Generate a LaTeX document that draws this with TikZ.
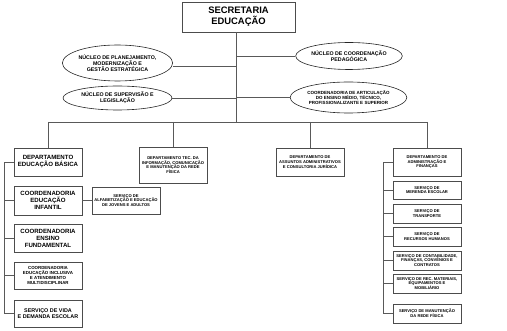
\documentclass[tikz,border=0pt]{standalone}
\usepackage{fontspec}
\setmainfont{Liberation Sans}
\usetikzlibrary{shapes.geometric}
\newcommand{\fs}[2]{\fontsize{#1}{#2}\selectfont\bfseries}
\tikzset{
  boxnode/.style={draw=black!70, line width=0.8pt, align=center, inner sep=0pt, fill=white},
  ellnode/.style={draw=black!85, line width=0.6pt, ellipse, align=center, inner sep=0pt},
  conn/.style={draw=black!65, line width=0.8pt},
}
\begin{document}
\begin{tikzpicture}[x=1pt,y=-1pt]
\useasboundingbox (0,0) rectangle (507,331);
% top
\node[boxnode, minimum width=113pt, minimum height=30pt, font=\fs{9.4}{10.8}] (top) at (238.5,17) {SECRETARIA\\EDUCAÇÃO};
% ellipses
\node[ellnode, minimum width=109pt, minimum height=36pt, font=\fs{5.3}{6.1}] (e1) at (117.5,63) {NÚCLEO DE PLANEJAMENTO,\\MODERNIZAÇÃO E\\GESTÃO ESTRATÉGICA};
\node[ellnode, minimum width=109pt, minimum height=24pt, font=\fs{5.3}{6.1}] (e2) at (117.5,98) {NÚCLEO DE SUPERVISÃO E\\LEGISLAÇÃO};
\node[ellnode, minimum width=98pt, minimum height=27pt, font=\fs{5.3}{6.1}] (e3) at (349,56) {NÚCLEO DE COORDENAÇÃO\\PEDAGÓGICA};
\node[ellnode, minimum width=99pt, minimum height=31pt, font=\fs{4.5}{5.3}] (e4) at (348.5,97.5) {COORDENADORIA DE ARTICULAÇÃO\\DO ENSINO MÉDIO, TÉCNICO,\\PROFISSIONALIZANTE E SUPERIOR};
% departments
\node[boxnode, minimum width=68pt, minimum height=28pt, font=\fs{6.1}{7}] (d1) at (48,162) {DEPARTAMENTO\\EDUCAÇÃO BÁSICA};
\node[boxnode, minimum width=68pt, minimum height=36pt, font=\fs{4.1}{4.8}] (d2) at (173,165) {DEPARTAMENTO TEC. DA\\INFORMAÇÃO, COMUNICAÇÃO\\E MANUTENÇÃO DA REDE\\FÍSICA};
\node[boxnode, minimum width=68pt, minimum height=28pt, font=\fs{4.1}{4.8}] (d3) at (310,162) {DEPARTAMENTO DE\\ASSUNTOS ADMINISTRATIVOS\\E CONSULTORIA JURÍDICA};
\node[boxnode, minimum width=68pt, minimum height=28pt, font=\fs{4.1}{4.8}] (d4) at (427,162) {DEPARTAMENTO DE\\ADMINISTRAÇÃO E\\FINANÇAS};
% left column
\node[boxnode, minimum width=68pt, minimum height=29pt, font=\fs{6.1}{7}] (c1) at (48,200.5) {COORDENADORIA\\EDUCAÇÃO\\INFANTIL};
\node[boxnode, minimum width=68pt, minimum height=27pt, font=\fs{4.1}{4.8}] (s1) at (126,200.5) {SERVIÇO DE\\ALFABETIZAÇÃO E EDUCAÇÃO\\DE JOVENS E ADULTOS};
\node[boxnode, minimum width=68pt, minimum height=28pt, font=\fs{6.1}{7}] (c2) at (48,238) {COORDENADORIA\\ENSINO\\FUNDAMENTAL};
\node[boxnode, minimum width=68pt, minimum height=27pt, font=\fs{4.4}{5}] (c3) at (48,275.5) {COORDENADORIA\\EDUCAÇÃO INCLUSIVA\\E ATENDIMENTO\\MULTIDISCIPLINAR};
\node[boxnode, minimum width=68pt, minimum height=27pt, font=\fs{5.4}{6.4}] (c4) at (48,313.5) {SERVIÇO DE VIDA\\E DEMANDA ESCOLAR};
% right column
\node[boxnode, minimum width=68pt, minimum height=18pt, font=\fs{4.1}{4.8}] (r1) at (427,190) {SERVIÇO DE\\MERENDA ESCOLAR};
\node[boxnode, minimum width=68pt, minimum height=19pt, font=\fs{4.1}{4.8}] (r2) at (427,213.5) {SERVIÇO DE\\TRANSPORTE};
\node[boxnode, minimum width=68pt, minimum height=19pt, font=\fs{4.1}{4.8}] (r3) at (427,236.5) {SERVIÇO DE\\RECURSOS HUMANOS};
\node[boxnode, minimum width=68pt, minimum height=19pt, font=\fs{4.1}{4.8}] (r4) at (427,260.5) {SERVIÇO DE CONTABILIDADE,\\FINANÇAS, CONVÊNIOS E\\CONTRATOS};
\node[boxnode, minimum width=68pt, minimum height=19pt, font=\fs{4.1}{4.8}] (r5) at (427,283.5) {SERVIÇO DE REC. MATERIAIS,\\EQUIPAMENTOS E\\MOBILIÁRIO};
\node[boxnode, minimum width=68pt, minimum height=19pt, font=\fs{4.1}{4.8}] (r6) at (427,313.5) {SERVIÇO DE MANUTENÇÃO\\DA REDE FÍSICA};
% coordinates
\coordinate (bus) at (236,122);
\coordinate (lsp) at (4,0);
\coordinate (rsp) at (383,0);
% connectors
\draw[conn] (top.south -| bus) -- (bus);
\draw[conn] ([yshift=-3pt]e1.east) -- ([yshift=-3pt]e1.east -| bus);
\draw[conn] (e2.east) -- (e2.east -| bus);
\draw[conn] (e3.west) -- (e3.west -| bus);
\draw[conn] (e4.west) -- (e4.west -| bus);
\draw[conn] (d1.north |- bus) -- (d4.north |- bus);
\draw[conn] (d1.north |- bus) -- (d1.north);
\draw[conn] (d2.north |- bus) -- (d2.north);
\draw[conn] (d3.north |- bus) -- (d3.north);
\draw[conn] (d4.north |- bus) -- (d4.north);
% left column
\draw[conn] (d1.west) -- (d1.west -| lsp) -- (c4.west -| lsp) -- (c4.west);
\draw[conn] (c1.west -| lsp) -- (c1.west);
\draw[conn] (c2.west -| lsp) -- (c2.west);
\draw[conn] (c3.west -| lsp) -- (c3.west);
\draw[conn] (c1.east) -- (s1.west);
% right column
\draw[conn] (d4.west) -- (d4.west -| rsp) -- (r6.west -| rsp) -- (r6.west);
\draw[conn] (r1.west -| rsp) -- (r1.west);
\draw[conn] (r2.west -| rsp) -- (r2.west);
\draw[conn] (r3.west -| rsp) -- (r3.west);
\draw[conn] (r4.west -| rsp) -- (r4.west);
\draw[conn] (r5.west -| rsp) -- (r5.west);
\end{tikzpicture}
\end{document}
